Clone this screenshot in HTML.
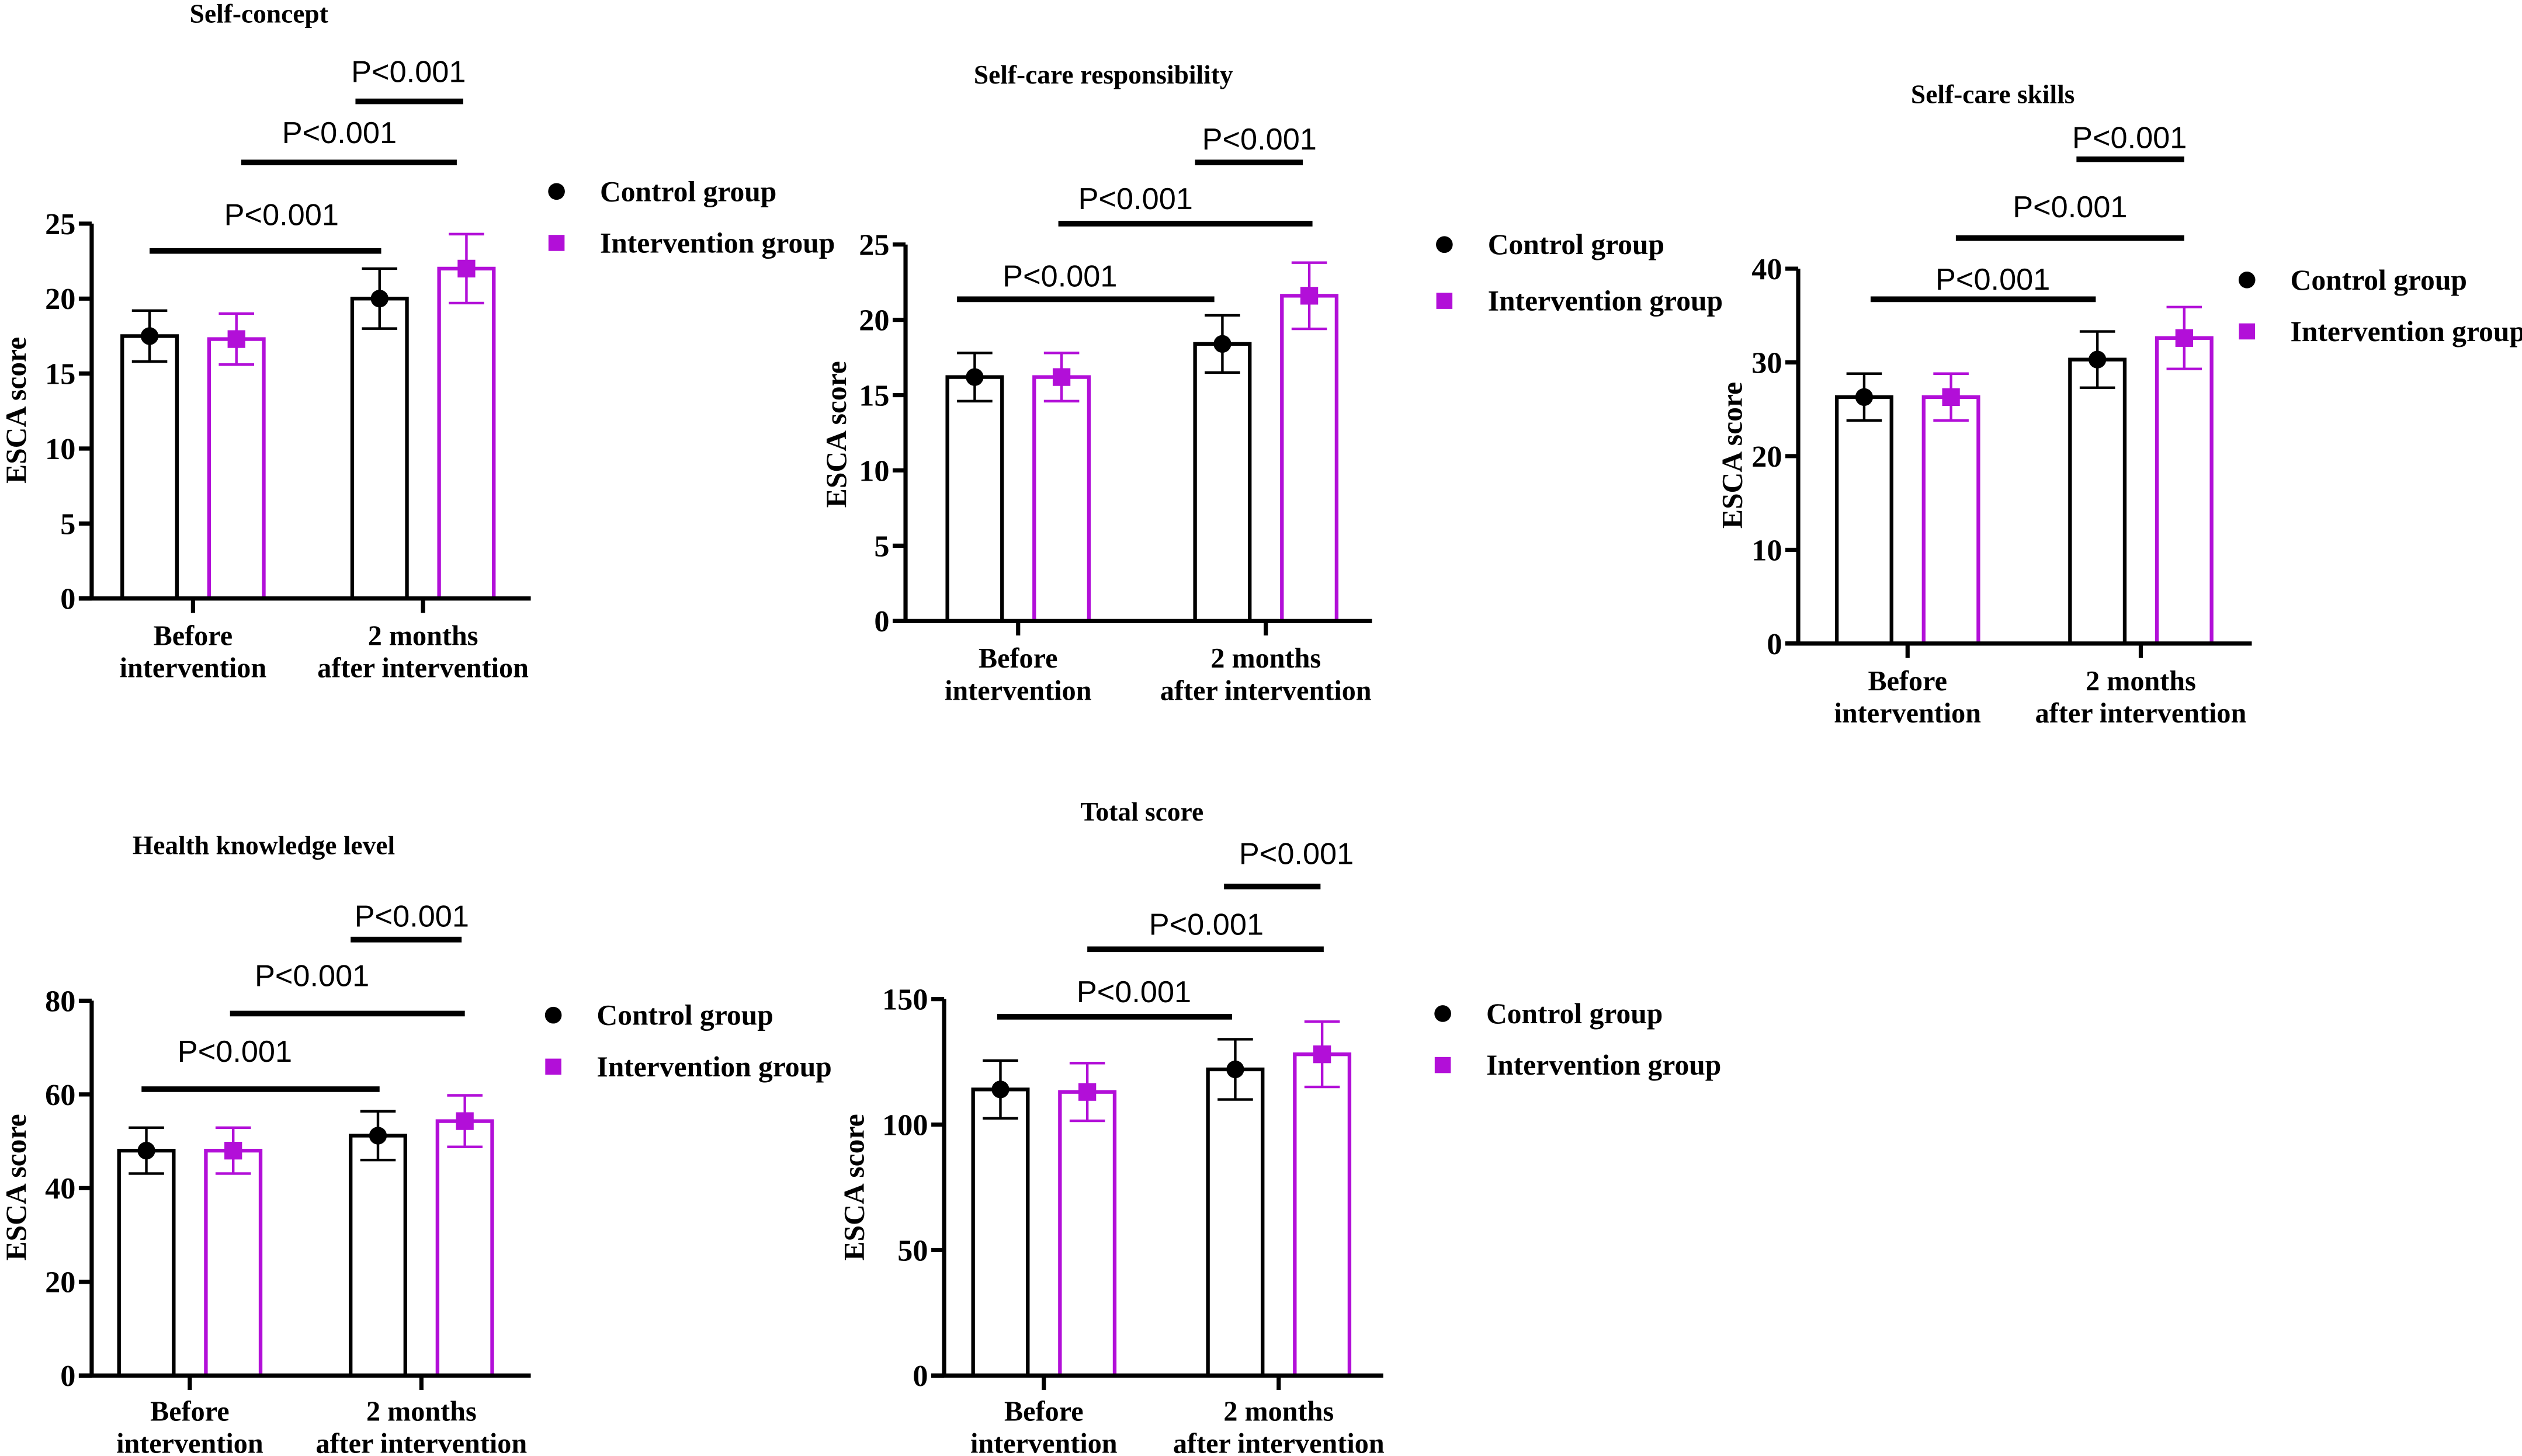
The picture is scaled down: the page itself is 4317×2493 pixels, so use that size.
<!DOCTYPE html>
<html><head><meta charset="utf-8">
<style>
html,body{margin:0;padding:0;background:#fff;}
svg{display:block;}
.tick{font-family:"Liberation Serif",serif;font-weight:bold;font-size:19px;fill:#000;}
.cat{font-family:"Liberation Serif",serif;font-weight:bold;font-size:17.5px;fill:#000;}
.pv{font-family:"Liberation Sans",sans-serif;font-size:19px;fill:#000;}
.leg{font-family:"Liberation Serif",serif;font-weight:bold;font-size:18px;fill:#000;}
.ttl{font-family:"Liberation Serif",serif;font-weight:bold;font-size:16.5px;fill:#000;}
.yl{font-family:"Liberation Serif",serif;font-weight:bold;font-size:18px;fill:#000;}
</style></head>
<body>
<svg id="fig" width="4317" height="2493" viewBox="0 0 1568 905" preserveAspectRatio="none" xmlns="http://www.w3.org/2000/svg"></svg>
<script>
// ---- data ----
const categories = ["Before|intervention", "2 months|after intervention"];
const seriesNames = ["Control group", "Intervention group"];
const panelTitles = ["Self-concept", "Self-care responsibility", "Self-care skills", "Health knowledge level", "Total score"];
const controlMeans = [[17.5, 20.0], [16.2, 18.4], [26.3, 30.3], [48.0, 51.2], [114, 122]];
const controlErr = [[1.7, 2.0], [1.6, 1.9], [2.5, 3.0], [4.9, 5.2], [11.5, 12]];
const interventionMeans = [[17.3, 22.0], [16.2, 21.6], [26.3, 32.6], [48.0, 54.3], [113, 128]];
const interventionErr = [[1.7, 2.3], [1.6, 2.2], [2.5, 3.3], [4.9, 5.5], [11.5, 13]];
const yMax = [25, 25, 40, 80, 150];
const yStep = [5, 5, 10, 20, 50];
const pLabels = ["P<0.001", "P<0.001", "P<0.001"];

// ---- layout (thumbnail units) ----
const layouts = [
 {ax:57, y0:372, yt:139, xe:330, c:[120,263], ly:395, br:[[93,237,156,175,133],[150,284,101,211,82],[221,288,63,254,44]], lg:[346,119,151], tt:[161,14], yl:[10,255]},
 {ax:563, y0:386, yt:152, xe:853, c:[633,787], ly:409, br:[[595,755,186,659,171],[658,816,139,706,123],[743,810,101,783,86]], lg:[898,152,187], tt:[686,52], yl:[520,270]},
 {ax:1118, y0:400, yt:167, xe:1400, c:[1186,1331], ly:423, br:[[1163,1303,186,1239,173],[1216,1358,148,1287,128],[1291,1358,99,1324,85]], lg:[1397,174,206], tt:[1239,64], yl:[1077,283]},
 {ax:57, y0:855, yt:622, xe:330, c:[118,262], ly:877, br:[[88,236,677,146,653],[143,289,630,194,606],[218,287,584,256,569]], lg:[344,631,663], tt:[164,531], yl:[10,738]},
 {ax:587, y0:855, yt:621, xe:860, c:[649,795], ly:877, br:[[620,766,632,705,616],[676,823,590,750,574],[761,821,551,806,530]], lg:[897,630,662], tt:[710,510], yl:[531,738]}
];
const NS = "http://www.w3.org/2000/svg";
const svg = document.getElementById('fig');
function mk(tag, attrs, parent, text){
  const e = document.createElementNS(NS, tag);
  for (const k in attrs) e.setAttribute(k, attrs[k]);
  if (text !== undefined) e.textContent = text;
  parent.appendChild(e);
  return e;
}
const PURPLE = "#b20fd8";
layouts.forEach((L, p) => {
  const g = mk('g', {}, svg);
  
  
  const yS = v => L.y0 - (v / yMax[p]) * (L.y0 - L.yt);
  const t = mk('text', {x:L.tt[0], y:L.tt[1], 'text-anchor':'middle', class:'ttl'}, g, panelTitles[p]);
  
  
  const yl = mk('text', {x:0, y:0, 'text-anchor':'middle', class:'yl', transform:`translate(${L.yl[0]+6},${L.yl[1]}) rotate(-90)`}, g, 'ESCA score');
  
  
  for (let i = 0; i < 2; i++) {
    [[controlMeans, controlErr, '#000', -27], [interventionMeans, interventionErr, PURPLE, 27]].forEach((s, si) => {
      const m = s[0][p][i], e = s[1][p][i], col = s[2];
      const cx = L.c[i] + s[3];
      const b = mk('rect', {x:cx-17, y:yS(m), width:34, height:L.y0 - yS(m), fill:'#fff', stroke:col, 'stroke-width':2.3}, g);
      
      
      const eb = mk('path', {d:`M${cx},${yS(m+e)}V${yS(m-e)}M${cx-11},${yS(m+e)}H${cx+11}M${cx-11},${yS(m-e)}H${cx+11}`, stroke:col, 'stroke-width':1.6, fill:'none'}, g);
      
      
      let mkr;
      if (si === 0) mkr = mk('circle', {cx:cx, cy:yS(m), r:5.5, fill:'#000'}, g);
      else mkr = mk('rect', {x:cx-5.5, y:yS(m)-5.5, width:11, height:11, fill:PURPLE}, g);
      
      
    });
  }
  const ax = mk('path', {d:`M${L.ax},${L.yt}V${L.y0}M${L.ax-8},${L.y0}H${L.xe}`, stroke:'#000', 'stroke-width':2.6, fill:'none'}, g);
  
  
  for (let v = 0; v <= yMax[p]; v += yStep[p]) {
    const tk = mk('path', {d:`M${L.ax-8},${yS(v)}H${L.ax}`, stroke:'#000', 'stroke-width':2.6}, g);
    
    
    const tl = mk('text', {x:L.ax-10, y:yS(v)+6.5, 'text-anchor':'end', class:'tick'}, g, String(v));
    
    
  }
  categories.forEach((c, i) => {
    const tk = mk('path', {d:`M${L.c[i]},${L.y0}V${L.y0+9}`, stroke:'#000', 'stroke-width':2.6}, g);
    
    
    const parts = c.split('|');
    parts.forEach((s, j) => {
      const tl = mk('text', {x:L.c[i], y:L.ly + 6 + j*20, 'text-anchor':'middle', class:'cat'}, g, s);
      
      
    });
  });
  L.br.forEach((b, k) => {
    const ln = mk('path', {d:`M${b[0]},${b[2]}H${b[1]}`, stroke:'#000', 'stroke-width':3.5}, g);
    
    
    const tx = mk('text', {x:b[3], y:b[4]+7, 'text-anchor':'middle', class:'pv'}, g, pLabels[k]);
    
    
  });
  const c1 = mk('circle', {cx:L.lg[0], cy:L.lg[1], r:5.2, fill:'#000'}, g);
  
  
  const l1 = mk('text', {x:L.lg[0]+27, y:L.lg[1]+6, class:'leg'}, g, seriesNames[0]);
  
  
  const s2 = mk('rect', {x:L.lg[0]-5, y:L.lg[2]-5, width:10, height:10, fill:PURPLE}, g);
  
  
  const l2 = mk('text', {x:L.lg[0]+27, y:L.lg[2]+6, class:'leg'}, g, seriesNames[1]);
  
  
});
</script>
</body></html>
